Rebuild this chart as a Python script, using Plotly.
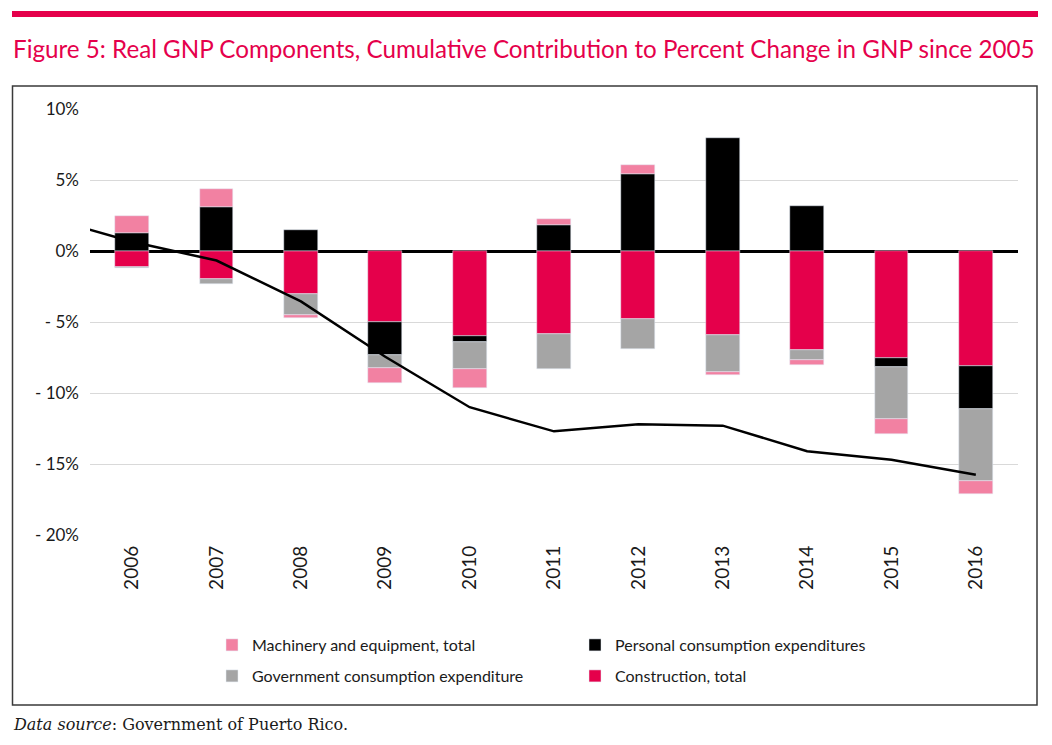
import plotly.graph_objects as go

years = [2006, 2007, 2008, 2009, 2010, 2011, 2012, 2013, 2014, 2015, 2016]
construction = [-1.15, -2.0, -3.0, -5.0, -6.0, -5.85, -4.8, -5.95, -7.0, -7.57, -8.1]
personal = [1.3, 3.1, 1.5, -2.3, -0.4, 1.8, 5.4, 7.95, 3.2, -0.57, -3.05]
government = [-0.08, -0.35, -1.5, -0.95, -1.9, -2.45, -2.1, -2.6, -0.7, -3.7, -5.05]
machinery = [1.15, 1.3, -0.2, -1.05, -1.35, 0.47, 0.63, -0.15, -0.33, -1.08, -0.88]

line_years = [2005, 2006, 2007, 2008, 2009, 2010, 2011, 2012, 2013, 2014, 2015, 2016]
gnp_change = [2.35, 0.65, -0.67, -3.55, -7.45, -11.0, -12.7, -12.2, -12.3, -14.1, -14.7, -15.75]

ytick_vals = [-20, -15, -10, -5, 0, 5, 10]
ytick_text = ["- 20%", "- 15%", "- 10%", "- 5%", "0%", "5%", "10%"]

C_RED = "#E5004B"
C_BLACK = "#000000"
C_GREY = "#A5A5A5"
C_PINK = "#F281A2"
FONT = "Lato"

fig = go.Figure()
fig.add_trace(go.Bar(x=years, y=construction, name="Construction, total", marker_color=C_RED,
                     width=0.4, legend="legend2", legendrank=2))
fig.add_trace(go.Bar(x=years, y=personal, name="Personal consumption expenditures", marker_color=C_BLACK,
                     width=0.4, legend="legend", legendrank=2))
fig.add_trace(go.Bar(x=years, y=government, name="Government consumption expenditure", marker_color=C_GREY,
                     width=0.4, legend="legend2", legendrank=1))
fig.add_trace(go.Bar(x=years, y=machinery, name="Machinery and equipment, total", marker_color=C_PINK,
                     width=0.4, legend="legend", legendrank=1))
fig.add_trace(go.Scatter(x=line_years, y=gnp_change, mode="lines", line=dict(color="black", width=2.5),
                         showlegend=False, name="GNP"))

W, H = 1052, 745
L, R, T, B = 90, 1018, 109, 535


def px(x):
    return (x - L) / (R - L)


def py(y):
    return (B - y) / (B - T)


legend_common = dict(orientation="h", xanchor="left", yanchor="middle", bgcolor="rgba(0,0,0,0)",
                     font=dict(family=FONT, size=16, color="#1a1a1a"), entrywidth=318,
                     entrywidthmode="pixels", traceorder="normal", itemclick=False)

fig.update_layout(
    width=W, height=H,
    margin=dict(l=L, r=W - R, t=T, b=H - B),
    paper_bgcolor="white", plot_bgcolor="white",
    barmode="relative", bargap=0,
    showlegend=True,
    legend=dict(x=px(212), y=py(645), **legend_common),
    legend2=dict(x=px(212), y=py(676), **legend_common),
    xaxis=dict(range=[2005.5, 2016.5], tickvals=years, ticktext=[str(y) for y in years],
               tickangle=-90, showgrid=False, zeroline=False, showline=False,
               tickfont=dict(family=FONT, size=19, color="#1a1a1a"), ticks="", ticklabelstandoff=6),
    yaxis=dict(range=[-20, 10], tickvals=ytick_vals, ticktext=ytick_text, showgrid=True,
               gridcolor="#D9D9D9", gridwidth=1.3, zeroline=True, zerolinecolor="black", zerolinewidth=3,
               showline=False, ticks="", ticklabelstandoff=10,
               tickfont=dict(family=FONT, size=17, color="#1a1a1a")),
    shapes=[
        dict(type="rect", xref="paper", yref="paper", x0=px(12), x1=px(1038), y0=py(17), y1=py(11),
             fillcolor=C_RED, line=dict(width=0), layer="above"),
        dict(type="rect", xref="paper", yref="paper", x0=px(12.5), x1=px(1037), y0=py(705), y1=py(86),
             fillcolor="rgba(0,0,0,0)", line=dict(color="#3a3a3a", width=1.5), layer="below"),
    ],
    annotations=[
        dict(text="Figure 5: Real GNP Components, Cumulative Contribution to Percent Change in GNP since 2005",
             xref="paper", yref="paper", x=px(11), y=py(48), xanchor="left", yanchor="middle",
             showarrow=False, font=dict(family=FONT, size=24.2, color=C_RED)),
        dict(text="<i>Data source</i>: Government of Puerto Rico.",
             xref="paper", yref="paper", x=px(11), y=py(724), xanchor="left", yanchor="middle",
             showarrow=False, font=dict(family="DejaVu Serif", size=16, color="#1a1a1a")),
    ],
)

fig.write_html("out.html")
